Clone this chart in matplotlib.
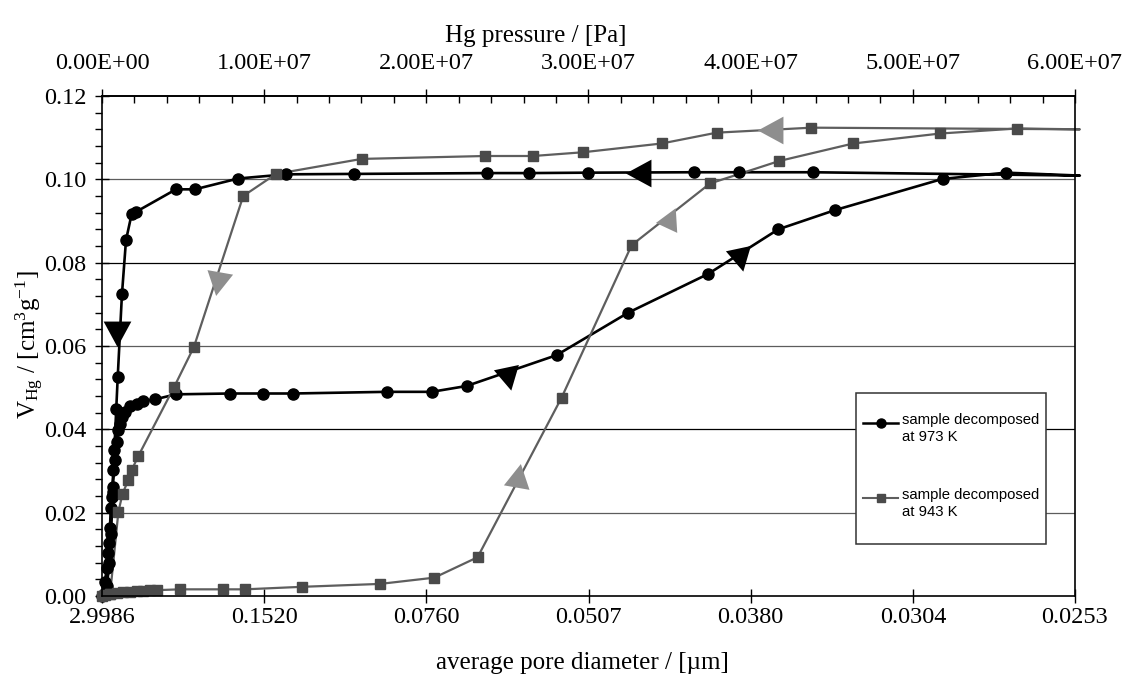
import math
import matplotlib
matplotlib.use('Agg')
import matplotlib.pyplot as plt
from matplotlib.patches import Rectangle

# ---------------- data (pressure in units of 1e7 Pa, volume in cm3/g) -------------
p973 = [0.000, 0.018, 0.029, 0.039, 0.044, 0.049, 0.054, 0.060, 0.065, 0.070, 0.080,
        0.091, 0.100, 0.111, 0.123, 0.142, 0.173, 0.214, 0.255, 0.327, 0.456, 0.789,
        0.994, 1.179, 1.755, 2.033, 2.248, 2.803, 3.245, 3.738, 4.170, 4.519, 5.183,
        5.573,
        4.385, 3.929, 3.650, 2.998, 2.633, 2.376, 1.553, 1.134, 0.840, 0.573, 0.456,
        0.210, 0.183, 0.148, 0.123, 0.097, 0.088, 0.076, 0.066, 0.056, 0.046, 0.030,
        0.010]
v973 = [0.0000, 0.0034, 0.0067, 0.0103, 0.0127, 0.0163, 0.0211, 0.0238, 0.0262, 0.0302,
        0.0326, 0.0370, 0.0398, 0.0414, 0.0430, 0.0442, 0.0456, 0.0462, 0.0468, 0.0472,
        0.0484, 0.0486, 0.0486, 0.0486, 0.0490, 0.0490, 0.0504, 0.0578, 0.0680, 0.0773,
        0.0880, 0.0926, 0.1001, 0.1016,
        0.1017, 0.1017, 0.1017, 0.1016, 0.1015, 0.1015, 0.1013, 0.1012, 0.1002, 0.0976,
        0.0976, 0.0922, 0.0917, 0.0854, 0.0724, 0.0526, 0.0450, 0.0350, 0.0250, 0.0150,
        0.0080, 0.0025, 0.0005]
p973_end = 6.03
v973_end = 0.1009
i973_turn = 34  # index where extrusion branch starts

p943 = [0.000, 0.018, 0.049, 0.091, 0.132, 0.173, 0.214, 0.255, 0.296, 0.337, 0.481,
        0.748, 0.882, 1.231, 1.714, 2.049, 2.316, 2.834, 3.266, 3.749, 4.176, 4.632,
        5.170, 5.643,
        4.375, 3.790, 3.451, 2.967, 2.659, 2.361, 1.601, 1.073, 0.871, 0.567, 0.444,
        0.224, 0.183, 0.162, 0.127, 0.101, 0.050]
v943 = [0.0000, 0.0002, 0.0006, 0.0008, 0.0010, 0.0010, 0.0012, 0.0013, 0.0014, 0.0014,
        0.0016, 0.0016, 0.0016, 0.0022, 0.0029, 0.0044, 0.0093, 0.0476, 0.0842, 0.0990,
        0.1044, 0.1086, 0.1110, 0.1122,
        0.1124, 0.1112, 0.1086, 0.1065, 0.1056, 0.1056, 0.1049, 0.1013, 0.0960, 0.0598,
        0.0501, 0.0336, 0.0302, 0.0278, 0.0246, 0.0202, 0.0005]
p943_end = 6.03
v943_end = 0.1120
i943_turn = 24

# direction arrows: pressure (1e7 Pa), volume, pointing angle (deg, 0 = right, 90 = up)
arrows973 = [(0.090, 0.0634, -90), (2.505, 0.0526, -78),
             (3.933, 0.0810, -78), (3.317, 0.1015, 180)]
arrows943 = [(0.717, 0.0754, -100), (2.567, 0.0286, 80),
             (3.502, 0.0906, 65), (4.129, 0.1118, 180)]

pressure_ticks = [0, 1, 2, 3, 4, 5, 6]
pressure_minor = [0.2 * i for i in range(31)]
diameter_labels = ['2.9986', '0.1520', '0.0760', '0.0507', '0.0380', '0.0304', '0.0253']
yticks = [0.00, 0.02, 0.04, 0.06, 0.08, 0.10, 0.12]
yminor = [0.004 * i for i in range(31)]
grid_levels = [0.02, 0.04, 0.06, 0.08, 0.10]
grid_colors = ['#5c5c5c', '#000000', '#5c5c5c', '#000000', '#5c5c5c']

labels = ['sample decomposed\nat 973 K', 'sample decomposed\nat 943 K']

P = 1e7
# ---------------------------------------------------------------------------------
plt.rcParams['font.family'] = ['Liberation Serif', 'DejaVu Serif']
plt.rcParams['mathtext.fontset'] = 'custom'
plt.rcParams['mathtext.rm'] = 'Liberation Serif'
plt.rcParams['mathtext.it'] = 'Liberation Serif:italic'


def triangle(angle_deg):
    """Triangle marker vertices with apex pointing in the given direction."""
    a = math.radians(angle_deg)
    base = [(1.0, 0.0), (-0.75, 0.95), (-0.75, -0.95)]
    return [(x * math.cos(a) - y * math.sin(a), x * math.sin(a) + y * math.cos(a))
            for x, y in base]


fig = plt.figure(figsize=(11.24, 6.76), dpi=100)
W, H = 1124, 676
ax = fig.add_axes([102 / W, 1 - 596 / H, 973 / W, 500 / H])
ax.set_xlim(0, 6 * P)
ax.set_ylim(0, 0.12)

for lev, col in zip(grid_levels, grid_colors):
    ax.axhline(lev, color=col, lw=0.9, zorder=1)

black = '#000000'
gray_line = '#5e5e5e'
gray_mark = '#4a4a4a'
gray_arrow = '#8e8e8e'

# 973 K series
ax.plot([p * P for p in p973[:i973_turn]] + [p973_end * P] + [p * P for p in p973[i973_turn:]],
        v973[:i973_turn] + [v973_end] + v973[i973_turn:],
        color=black, lw=1.9, zorder=3, clip_on=False)
ax.plot([p * P for p in p973], v973, ls='none', marker='o', ms=8,
        color=black, zorder=4, clip_on=False)

# 943 K series
ax.plot([p * P for p in p943[:i943_turn]] + [p943_end * P] + [p * P for p in p943[i943_turn:]],
        v943[:i943_turn] + [v943_end] + v943[i943_turn:],
        color=gray_line, lw=1.6, zorder=3, clip_on=False)
ax.plot([p * P for p in p943], v943, ls='none', marker='s', ms=7.5,
        color=gray_mark, zorder=4, clip_on=False)

for (px, vy, ang) in arrows973:
    ax.plot([px * P], [vy], ls='none', marker=triangle(ang), ms=21, color=black,
            mec=black, mew=0, zorder=5)
for (px, vy, ang) in arrows943:
    ax.plot([px * P], [vy], ls='none', marker=triangle(ang), ms=21, color=gray_arrow,
            mec=gray_arrow, mew=0, zorder=5)

# axes styling
for s in ax.spines.values():
    s.set_linewidth(1.2)
    s.set_color('black')
    s.set_zorder(6)

ax.set_xticks([t * P for t in pressure_ticks])
ax.set_xticklabels(diameter_labels)
ax.set_yticks(yticks)
ax.set_yticklabels(['%.2f' % y for y in yticks])
ax.set_yticks(yminor, minor=True)
ax.tick_params(axis='x', which='major', direction='inout', length=10, width=1,
               labelsize=17.5, pad=3)
ax.tick_params(axis='x', which='minor', bottom=False)
ax.tick_params(axis='y', which='major', direction='inout', length=10, width=1,
               labelsize=17.5, pad=6)
ax.tick_params(axis='y', which='minor', direction='out', length=5, width=1)

sec = ax.secondary_xaxis('top')
sec.set_xticks([t * P for t in pressure_ticks])
sec.set_xticklabels(['{:.2E}'.format(t * P) for t in pressure_ticks])
sec.set_xticks([t * P for t in pressure_minor], minor=True)
sec.tick_params(axis='x', which='major', direction='inout', length=10, width=1,
                labelsize=17.5, pad=11)
sec.tick_params(axis='x', which='minor', direction='in', length=5, width=1)
sec.spines['top'].set_linewidth(1.2)

# axis titles
fig.text(536 / W, 1 - 36 / H, 'Hg pressure / [Pa]', ha='center', va='center', fontsize=18)
fig.text(582 / W, 1 - 663 / H, 'average pore diameter / [\u00b5m]', ha='center',
         va='center', fontsize=18)
fig.text(30 / W, 1 - 345 / H, r'V$_{\mathrm{Hg}}$ / [cm$^{3}$g$^{-1}$]', ha='center',
         va='center', rotation=90, fontsize=18)

# legend box (drawn in axes coordinates)
def ax_x(px):
    return (px - 102) / 973.0

def ax_y(py):
    return (596 - py) / 500.0

ax.add_patch(Rectangle((ax_x(856), ax_y(544)), ax_x(1046) - ax_x(856), ax_y(393) - ax_y(544),
                       transform=ax.transAxes, facecolor='white', edgecolor='#333333',
                       lw=1.1, zorder=7))
leg_styles = [dict(color=black, lw=1.8, marker='o', ms=6.5, mfc=black, mec=black),
              dict(color=gray_line, lw=1.5, marker='s', ms=6, mfc=gray_mark, mec=gray_mark)]
for i, (lab, st) in enumerate(zip(labels, leg_styles)):
    yc = 422.7 + i * 75
    ax.plot([ax_x(863), ax_x(898)], [ax_y(yc)] * 2, transform=ax.transAxes,
            ls='-', color=st['color'], lw=st['lw'], zorder=8, clip_on=False)
    ax.plot([ax_x(880.5)], [ax_y(yc)], transform=ax.transAxes, ls='none',
            marker=st['marker'], ms=st['ms'], mfc=st['mfc'], mec=st['mec'],
            zorder=9, clip_on=False)
    ax.text(ax_x(902), ax_y(yc - 9.5), lab, transform=ax.transAxes, ha='left', va='top',
            fontsize=10.7, family=['Liberation Sans', 'DejaVu Sans'], linespacing=1.3,
            zorder=9)

fig.savefig('out.png', dpi=100)
